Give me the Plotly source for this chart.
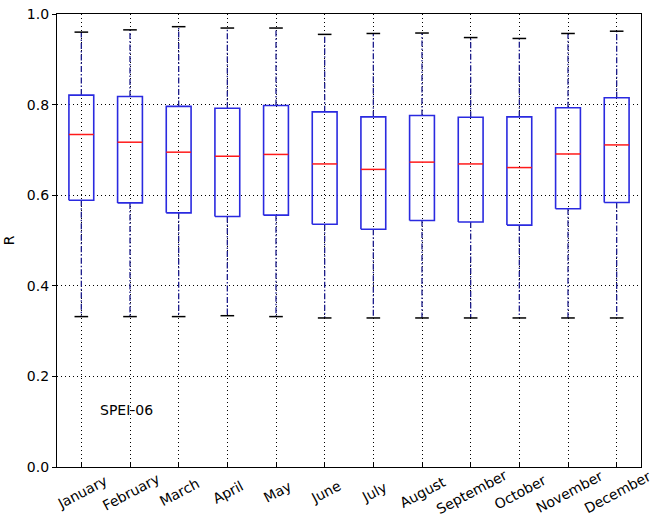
import plotly.graph_objects as go

months = ["January", "February", "March", "April", "May", "June", "July",
          "August", "September", "October", "November", "December"]
upper = [0.960, 0.965, 0.972, 0.969, 0.969, 0.955, 0.957, 0.958, 0.948, 0.946, 0.957, 0.962]
q3 = [0.821, 0.818, 0.796, 0.792, 0.798, 0.784, 0.773, 0.776, 0.772, 0.773, 0.793, 0.815]
median = [0.734, 0.717, 0.695, 0.686, 0.690, 0.669, 0.657, 0.673, 0.669, 0.661, 0.691, 0.711]
q1 = [0.589, 0.583, 0.561, 0.553, 0.556, 0.536, 0.525, 0.544, 0.541, 0.534, 0.570, 0.584]
lower = [0.332, 0.332, 0.332, 0.334, 0.332, 0.329, 0.329, 0.329, 0.329, 0.329, 0.329, 0.329]
y_ticks = [0.0, 0.2, 0.4, 0.6, 0.8, 1.0]
label_text = "SPEI-06"

pos = list(range(1, len(months) + 1))
bw = 0.255   # half box width
cw = 0.14    # half cap width

box_x, box_y = [], []
med_x, med_y = [], []
wh_x, wh_y = [], []
cap_x, cap_y = [], []
for p, lo, a, m, b, hi in zip(pos, lower, q1, median, q3, upper):
    box_x += [p - bw, p + bw, p + bw, p - bw, p - bw, None]
    box_y += [a, a, b, b, a, None]
    med_x += [p - bw, p + bw, None]
    med_y += [m, m, None]
    wh_x += [p, p, None, p, p, None]
    wh_y += [b, hi, None, a, lo, None]
    cap_x += [p - cw, p + cw, None, p - cw, p + cw, None]
    cap_y += [hi, hi, None, lo, lo, None]

fig = go.Figure()
fig.add_trace(go.Scatter(x=wh_x, y=wh_y, mode="lines", hoverinfo="skip",
                         line=dict(color="#1c1c8c", width=1.3, dash="6px,2px,1.5px,2px")))
fig.add_trace(go.Scatter(x=cap_x, y=cap_y, mode="lines", hoverinfo="skip",
                         line=dict(color="black", width=1.5)))
fig.add_trace(go.Scatter(x=box_x, y=box_y, mode="lines", hoverinfo="skip",
                         line=dict(color="#2a2ae0", width=1.6)))
fig.add_trace(go.Scatter(x=med_x, y=med_y, mode="lines", hoverinfo="skip",
                         line=dict(color="#ff1a1a", width=1.5)))

for p, name in zip(pos, months):
    fig.add_annotation(x=p, y=0, xref="x", yref="y", text=name, showarrow=False,
                       textangle=-28, yshift=-25, xshift=1, xanchor="center", yanchor="middle",
                       font=dict(family="DejaVu Sans", size=14, color="black"))

fig.add_annotation(x=1.92, y=0.126, xref="x", yref="y", text=label_text,
                   showarrow=False, xanchor="center", yanchor="middle",
                   font=dict(family="DejaVu Sans", size=14, color="black"))

fig.update_layout(
    width=652, height=520,
    margin=dict(l=57, r=11, t=14, b=53, autoexpand=False),
    paper_bgcolor="white", plot_bgcolor="white",
    showlegend=False,
    font=dict(family="DejaVu Sans", size=14, color="black"),
    xaxis=dict(range=[0.5, 12.5], tickvals=pos, showticklabels=False, automargin=False,
               showgrid=True, gridcolor="black", gridwidth=1, griddash="1px,3px",
               showline=True, linecolor="black", linewidth=1.2, mirror=True,
               ticks="inside", ticklen=4, tickcolor="black", zeroline=False),
    yaxis=dict(range=[0, 1], tickvals=y_ticks, tickformat=".1f", automargin=False,
               showgrid=True, gridcolor="black", gridwidth=1, griddash="1px,3px",
               showline=True, linecolor="black", linewidth=1.2, mirror=True,
               ticks="outside", ticklen=4, tickcolor="black", zeroline=False,
               title=dict(text="R", standoff=8, font=dict(size=14))),
)

fig.write_html("out.html", config={"displayModeBar": False},
               post_script="document.body.style.margin='0px';")
